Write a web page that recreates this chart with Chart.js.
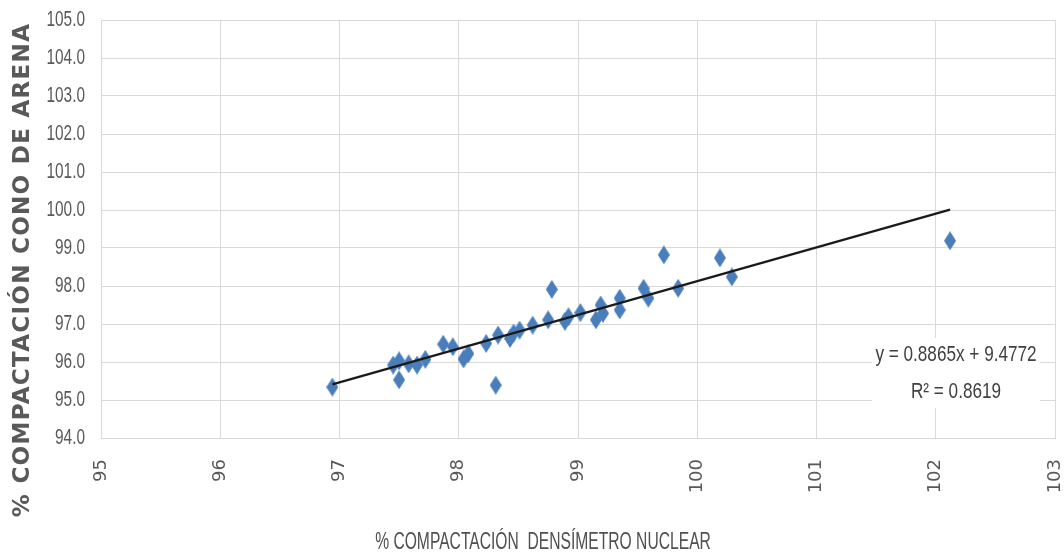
<!DOCTYPE html>
<html>
<head>
<meta charset="utf-8">
<script src="https://cdn.jsdelivr.net/npm/chart.js@4.4.1/dist/chart.umd.min.js"></script>
<style>
  html, body { margin: 0; padding: 0; background: #fff; }
  #wrap { width: 1064px; height: 554px; }
</style>
</head>
<body>
<div id="wrap"><canvas id="scatterChart"></canvas></div>
<script>
// Densímetro nuclear (x) vs cono de arena (y)
const densimetro = [
  96.94, 97.45, 97.50, 97.50, 97.58, 97.65, 97.72, 97.87, 97.95, 98.04,
  98.08, 98.23, 98.31, 98.33, 98.43, 98.46, 98.51, 98.62, 98.75, 98.78,
  98.89, 98.92, 99.02, 99.15, 99.19, 99.21, 99.35, 99.35, 99.55, 99.59,
  99.72, 99.84, 100.19, 100.29, 102.12
];
const conoArena = [
  95.34, 95.92, 96.03, 95.53, 95.95, 95.92, 96.07, 96.47, 96.40, 96.08,
  96.22, 96.49, 95.39, 96.71, 96.62, 96.76, 96.84, 96.97, 97.11, 97.91,
  97.07, 97.19, 97.30, 97.11, 97.50, 97.28, 97.68, 97.37, 97.94, 97.68,
  98.82, 97.94, 98.74, 98.24, 99.19
];

// linear trend line endpoints
const trendX = [96.94, 102.12];
const trendY = [95.41, 100.01];

const xTicks = [95, 96, 97, 98, 99, 100, 101, 102, 103];
const yTicks = [94, 95, 96, 97, 98, 99, 100, 101, 102, 103, 104, 105];

const xTitle = "% COMPACTACIÓN  DENSÍMETRO NUCLEAR";
const yTitle = "% COMPACTACIÓN CONO DE ARENA";
const equationText = "y = 0.8865x + 9.4772";
const r2Text = "R² = 0.8619";

const sans = '"Liberation Sans", Arial, sans-serif';
const gray = "#595959";

function diamond(w, h, color) {
  const c = document.createElement("canvas");
  c.width = w;
  c.height = h;
  const g = c.getContext("2d");
  g.fillStyle = color;
  g.beginPath();
  g.moveTo(w / 2, 0);
  g.lineTo(w, h / 2);
  g.lineTo(w / 2, h);
  g.lineTo(0, h / 2);
  g.closePath();
  g.fill();
  return c;
}

const marker = diamond(12, 19, "#4a7ebb");

const points = densimetro.map((x, i) => ({ x: x, y: conoArena[i] }));
const trend = trendX.map((x, i) => ({ x: x, y: trendY[i] }));

// narrow text, squeezed sideways (the original uses a condensed face)
function narrowText(ctx, text, x, y, size, squeeze, color, align) {
  ctx.save();
  ctx.translate(x, y);
  ctx.scale(squeeze, 1);
  ctx.font = size + "px " + sans;
  ctx.fillStyle = color;
  ctx.textAlign = align || "center";
  ctx.textBaseline = "middle";
  ctx.fillText(text, 0, 0);
  ctx.restore();
}

const textPlugin = {
  id: "extraText",
  afterDraw(chart) {
    const ctx = chart.ctx;
    const yScale = chart.scales.y;

    // y tick labels
    yScale.ticks.forEach(t => {
      const py = yScale.getPixelForValue(t.value);
      narrowText(ctx, Number(t.value).toFixed(1), 85, py, 22, 0.7, gray, "right");
    });
  },
  afterDatasetsDraw(chart) {
    const ctx = chart.ctx;
    // equation label with white box, like Excel
    ctx.save();
    ctx.fillStyle = "#fff";
    ctx.fillRect(872, 338, 168, 70);
    ctx.restore();
    narrowText(ctx, equationText, 956, 355, 22, 0.78, "#404040");
    narrowText(ctx, r2Text, 956, 392, 22, 0.78, "#404040");

    // axis titles
    narrowText(ctx, xTitle, 543, 543, 23, 0.68, "#505050");

    ctx.save();
    ctx.translate(23, 270);
    ctx.rotate(-Math.PI / 2);
    ctx.font = "bold 23px " + '"DejaVu Sans", sans-serif';
    ctx.letterSpacing = "1.3px";
    ctx.fillStyle = gray;
    ctx.textAlign = "center";
    ctx.textBaseline = "middle";
    ctx.fillText(yTitle, 0, 0);
    ctx.restore();
  }
};

new Chart(document.getElementById("scatterChart"), {
  type: "scatter",
  data: {
    datasets: [
      {
        type: "line",
        data: trend,
        borderColor: "#1a1a1a",
        borderWidth: 2.2,
        pointRadius: 0,
        fill: false
      },
      {
        data: points,
        pointStyle: marker,
        pointRadius: 7
      }
    ]
  },
  options: {
    responsive: true,
    maintainAspectRatio: false,
    animation: false,
    layout: { padding: { top: 20, right: 9, left: 0, bottom: 0 } },
    plugins: {
      legend: { display: false },
      tooltip: { enabled: false }
    },
    scales: {
      x: {
        type: "linear",
        min: xTicks[0],
        max: xTicks[xTicks.length - 1],
        afterBuildTicks: s => { s.ticks = xTicks.map(v => ({ value: v })); },
        afterFit: s => {
          s.height = 116;
          s.paddingLeft = 0;
          s.paddingRight = 0;
        },
        grid: { color: "#d9d9d9", drawTicks: false },
        border: { color: "#d9d9d9" },
        ticks: {
          autoSkip: false,
          minRotation: 90,
          maxRotation: 90,
          padding: 21,
          color: gray,
          font: { family: '"DejaVu Sans", sans-serif', size: 18 }
        }
      },
      y: {
        min: yTicks[0],
        max: yTicks[yTicks.length - 1],
        afterBuildTicks: s => { s.ticks = yTicks.map(v => ({ value: v })); },
        afterFit: s => {
          s.width = 101;
          s.paddingTop = 0;
          s.paddingBottom = 0;
        },
        grid: { color: "#d9d9d9", drawTicks: false },
        border: { color: "#d9d9d9" },
        // labels drawn narrow by the plugin above
        ticks: { display: false }
      }
    }
  },
  plugins: [textPlugin]
});
</script>
</body>
</html>
